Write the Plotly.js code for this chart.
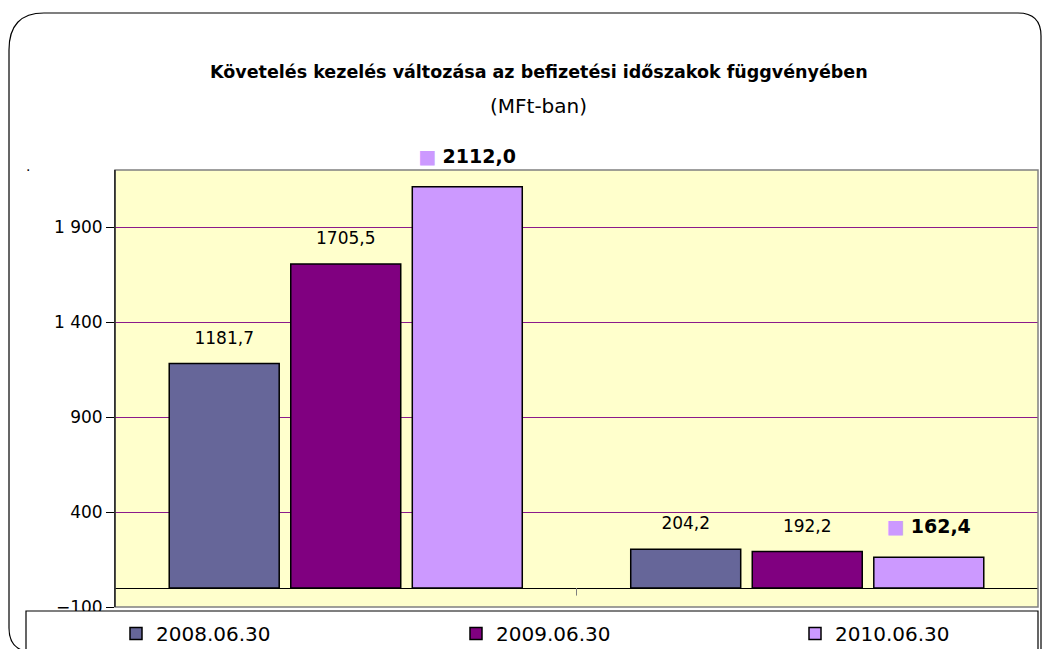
<!DOCTYPE html>
<html>
<head>
<meta charset="utf-8">
<script src="https://cdn.plot.ly/plotly-3.0.1.min.js"></script>
<style>html,body{margin:0;padding:0;background:#fff;}#chart{width:1042px;height:649px;}</style>
</head>
<body>
<div id="chart"></div>
<script>
// ---- data ----
const categories = ["Csoport 1", "Csoport 2"];
const seriesNames = ["2008.06.30", "2009.06.30", "2010.06.30"];
const values2008 = [1181.7, 204.2];
const values2009 = [1705.5, 192.2];
const values2010 = [2112.0, 162.4];
const yTicks = [-100, 400, 900, 1400, 1900];
const titleText = "Követelés kezelés változása az befizetési időszakok függvényében";
const subtitleText = "(MFt-ban)";

// ---- styling ----
const colors = ["#666699", "#800080", "#CC99FF"];
const W = 1042, H = 649;
const M = {l: 115, r: 4, t: 170, b: 42, autoexpand: false};
const PW = W - M.l - M.r, PH = H - M.t - M.b;
const px = x => (x - M.l) / PW;
const py = y => (H - M.b - y) / PH;
const fmt = v => v.toFixed(1).replace('.', ',');
const FONT = "DejaVu Sans, Verdana, sans-serif";
const PAD = "<br><span style='font-size:2px'> </span>";

function plainLabels(vals) {
  return vals.map(v => "<span style='font-size:17px'>" + fmt(v) + "</span>" + PAD);
}
function keyLabels(vals, c) {
  return vals.map(v => "<span style='font-size:19px'><span style='color:" + c + "'>■</span> <b>" +
    fmt(v) + "</b></span>" + PAD);
}

const legendIds = ["legend", "legend2", "legend3"];
const legendX = [116, 456, 795];

const allVals = [values2008, values2009, values2010];
const traces = allVals.map((vals, i) => ({
  type: "bar",
  name: seriesNames[i],
  legend: legendIds[i],
  x: categories,
  y: vals,
  marker: {color: colors[i], line: {color: "#000000", width: 1.5}},
  text: i === 2 ? keyLabels(vals, colors[i]) : plainLabels(vals),
  textposition: "outside",
  textfont: {family: FONT, size: i === 2 ? 16 : 13, color: "#000000"},
  constraintext: "none",
  cliponaxis: false,
  hoverinfo: "skip"
}));

// rounded outer frame path (paper coords)
function P(x, y) { return px(x).toFixed(5) + "," + py(y).toFixed(5); }
const frame = "M" + P(9, 50) + " Q" + P(9, 13) + " " + P(44, 13) +
  " L" + P(1018, 13) + " Q" + P(1041, 13) + " " + P(1041, 36) +
  " L" + P(1041, 700) + " M" + P(9, 50) + " L" + P(9, 628) +
  " Q" + P(9, 650) + " " + P(30, 652);

const layout = {
  width: W, height: H,
  margin: M,
  paper_bgcolor: "#ffffff",
  plot_bgcolor: "#FFFFCC",
  separators: ", ",
  showlegend: true,
  barmode: "group",
  bargap: 0.21,
  bargroupgap: 0.095,
  font: {family: FONT, color: "#000000"},
  xaxis: {
    showticklabels: false, ticks: "", showgrid: false, zeroline: false, showline: false,
    fixedrange: true
  },
  yaxis: {
    range: [-100, 2200],
    tickvals: yTicks,
    tickformat: ",d",
    ticks: "outside", ticklen: 8, tickcolor: "#000000", tickwidth: 1,
    tickfont: {family: FONT, size: 17, color: "#000000"},
    showgrid: true, gridcolor: "#8B1A8B", gridwidth: 1,
    zeroline: true, zerolinecolor: "#000000", zerolinewidth: 1,
    showline: true, linecolor: "#000000", linewidth: 1,
    fixedrange: true
  },
  shapes: [
    {type: "rect", xref: "paper", yref: "paper", x0: 0, x1: 1, y0: 0, y1: 1,
     line: {color: "#808080", width: 1.5}, fillcolor: "rgba(0,0,0,0)", layer: "above"},
    {type: "line", xref: "paper", yref: "paper", x0: 0, x1: 0, y0: 0, y1: 1,
     line: {color: "#000000", width: 1}, layer: "above"},
    {type: "line", xref: "paper", yref: "y", x0: 0.5, x1: 0.5, y0: 0, y1: -40,
     line: {color: "#808080", width: 1}, layer: "above"},
    {type: "rect", xref: "paper", yref: "paper", x0: px(26), x1: px(1038), y0: py(611), y1: py(700),
     line: {color: "#000000", width: 1.2}, fillcolor: "#ffffff", layer: "above"},
    {type: "path", xref: "paper", yref: "paper", path: frame,
     line: {color: "#000000", width: 1.2}, layer: "above"}
  ],
  annotations: [
    {xref: "paper", yref: "paper", x: px(539), y: py(72), text: "<b>" + titleText + "</b>",
     showarrow: false, font: {family: FONT, size: 17.5, color: "#000000"}, xanchor: "center", yanchor: "middle"},
    {xref: "paper", yref: "paper", x: px(538), y: py(106), text: subtitleText,
     showarrow: false, font: {family: FONT, size: 20, color: "#000000"}, xanchor: "center", yanchor: "middle"},
    {xref: "paper", yref: "paper", x: px(28), y: py(166), text: ".",
     showarrow: false, font: {family: FONT, size: 14, color: "#000000"}, xanchor: "center", yanchor: "middle"}
  ]
};

legendIds.forEach((id, i) => {
  layout[id] = {
    orientation: "h",
    x: px(legendX[i]), xanchor: "left",
    y: py(653), yanchor: "bottom",
    bgcolor: "rgba(0,0,0,0)",
    borderwidth: 0,
    font: {family: FONT, size: 20, color: "#000000"}
  };
});

Plotly.newPlot("chart", traces, layout, {displayModeBar: false, staticPlot: true});
</script>
</body>
</html>
